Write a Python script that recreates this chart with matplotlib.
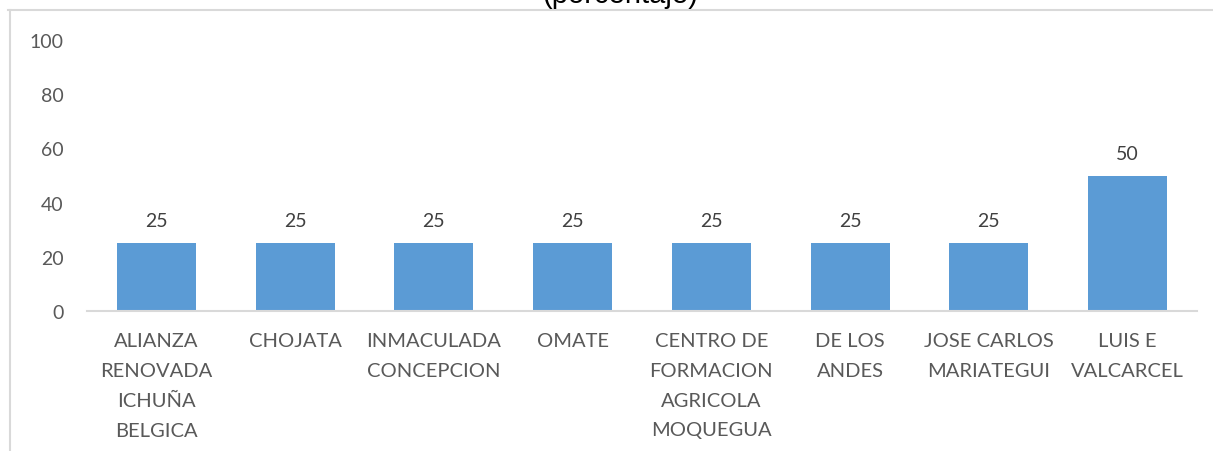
import matplotlib.pyplot as plt
from matplotlib.lines import Line2D

# Datos del grafico
categorias = ["ALIANZA\nRENOVADA\nICHUÑA\nBELGICA", "CHOJATA", "INMACULADA\nCONCEPCION",
              "OMATE", "CENTRO DE\nFORMACION\nAGRICOLA\nMOQUEGUA", "DE LOS\nANDES",
              "JOSE CARLOS\nMARIATEGUI", "LUIS E\nVALCARCEL"]
valores = [25, 25, 25, 25, 25, 25, 25, 50]
y_ticks = [0, 20, 40, 60, 80, 100]

W, H = 1213, 452
fig = plt.figure(figsize=(W / 100, H / 100), dpi=100)
ax = fig.add_axes([87 / W, 1 - 312 / H, (1197 - 87) / W, (312 - 41) / H])

gris = "#595959"
ax.bar(range(len(valores)), valores, width=0.57, color="#5B9BD5", zorder=2)
for i, v in enumerate(valores):
    ax.annotate(str(v), (i, v), xytext=(0, 10), textcoords="offset points",
                ha="center", va="bottom", fontsize=14, color="#404040", family="Lato")

ax.set_xlim(-0.5, len(valores) - 0.5)
ax.set_ylim(0, 100)
ax.set_yticks(y_ticks)
ax.set_yticklabels([str(t) for t in y_ticks], fontsize=14, color=gris, family="Lato")
ax.set_xticks(range(len(categorias)))
ax.set_xticklabels(categorias, fontsize=14.5, color=gris, family="Lato", linespacing=1.92,
                   va="top")
ax.tick_params(axis="both", length=0)
ax.tick_params(axis="y", pad=17)
ax.tick_params(axis="x", pad=15)

for s in ["top", "right", "left"]:
    ax.spines[s].set_visible(False)
ax.spines["bottom"].set_color("#D9D9D9")
ax.spines["bottom"].set_linewidth(1.5)

# marco del area del grafico (recortado)
fig.add_artist(Line2D([8 / W, 1], [1 - 10.5 / H, 1 - 10.5 / H], color="#D9D9D9", lw=1.5))
fig.add_artist(Line2D([10 / W, 10 / W], [1 - 10.5 / H, 0], color="#D9D9D9", lw=1.5))

# titulo (cortado en el borde superior, como en la imagen original)
fig.text(620 / W, 1 - 3 / H, "(porcentaje)", ha="center", va="baseline", fontsize=21,
         family="Liberation Sans", color="black")

fig.savefig("out.png", dpi=100)
